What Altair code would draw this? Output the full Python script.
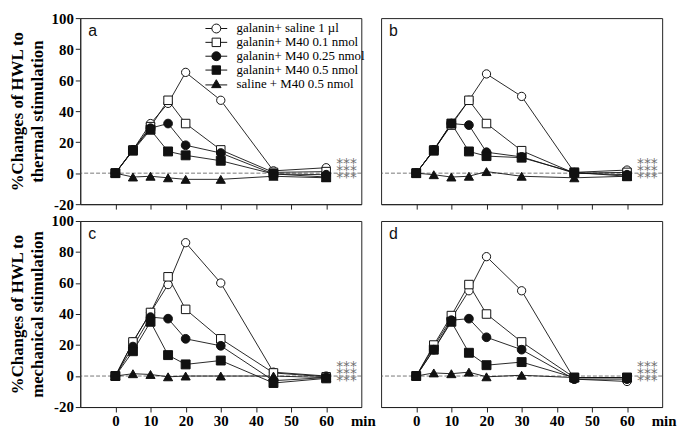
import altair as alt
import pandas as pd

times = [0, 5, 10, 15, 20, 30, 45, 60]
series = ["galanin+ saline 1 \u00b5l", "galanin+ M40 0.1 nmol", "galanin+ M40 0.25 nmol",
          "galanin+ M40 0.5 nmol", "saline + M40 0.5 nmol"]

# panel a (thermal)
a_open_circle = [0, 15, 32, 45, 65, 47, 1.5, 3.5]
a_open_square = [0, 15, 30, 47, 32, 15, 0.5, 1]
a_filled_circle = [0, 15, 29, 32, 18, 13, -0.5, -1]
a_filled_square = [0, 14.5, 28, 14, 11.5, 8, -0.5, -2.5]
a_triangle = [0, -2.5, -2, -3, -4, -4, -2, -3]
# panel b (thermal)
b_open_circle = [0, 15, 32, 47, 64, 49.5, 0.5, 2]
b_open_square = [0, 15, 31, 47, 32, 14.5, 0, 0.5]
b_filled_circle = [0, 15, 32, 31, 13.5, 10.5, 0, -1]
b_filled_square = [0, 14.5, 32, 14, 11, 10, 0.5, -2]
b_triangle = [0, -1, -2.5, -2, 1, -2, -3, -2]
# panel c (mechanical)
c_open_circle = [0, 22, 41, 59, 86, 60, 2.5, 0]
c_open_square = [0, 22, 41, 64, 43, 24, 2, -0.5]
c_filled_circle = [0, 19, 38, 37, 24, 19.5, -3, -1]
c_filled_square = [0, 16, 35, 13.5, 7.5, 10, -4.5, -1.5]
c_triangle = [0, 1.5, 1, -0.5, 0, 0, 0, -1]
# panel d (mechanical)
d_open_circle = [0, 19, 37, 55, 77, 55, -2, -3.5]
d_open_square = [0, 20, 39, 59, 40, 22, -1, -1]
d_filled_circle = [0, 17, 36, 37, 25, 17, -2, -2]
d_filled_square = [0, 17, 35, 15, 7, 9, -1, -1]
d_triangle = [0, 2, 1.5, 2.5, -0.5, 0.5, -1, -1]

star_x = [65.8]
star_y = [2.5]
star_text = ["***|***|***"]

x_ticks = [0, 10, 20, 30, 40, 50, 60]
y_ticks = [-20, 0, 20, 40, 60, 80, 100]

point_shapes = ["circle", "square", "circle", "square", "triangle-up"]
point_fills = ["white", "white", "#111", "#111", "#111"]
point_strokes = ["#111"] * 5
point_sizes = [70, 85, 70, 85, 65]
legend_paths = [
    "M-2.2,0H-0.9M0.9,0H2.2M0.9,0A0.9,0.9,0,1,1,-0.9,0A0.9,0.9,0,1,1,0.9,0Z",
    "M-2.2,0H-0.85M0.85,0H2.2M-0.85,-0.85H0.85V0.85H-0.85Z",
    "M-2.2,0H2.2M0.9,0A0.9,0.9,0,1,1,-0.9,0A0.9,0.9,0,1,1,0.9,0Z",
    "M-2.2,0H2.2M-0.85,-0.85H0.85V0.85H-0.85Z",
    "M-2.2,0.2H2.2M0,-0.85L0.95,0.75H-0.95Z",
]

W, H = 284, 188


def make_df(vals):
    rows = []
    for s, v in zip(series, vals):
        for t, y in zip(times, v):
            rows.append({"series": s, "time": t, "value": y})
    return pd.DataFrame(rows)


def panel(vals, letter, left, bottom, legend, ytitle=None):
    df = make_df(vals)
    if bottom:
        xaxis = alt.Axis(values=x_ticks, tickSize=5, labelPadding=2, grid=False,
                         labelFlush=False, labelOverlap=False, title="min",
                         titleX=273, titleY=19, titleAlign="left",
                         titleBaseline="alphabetic", titleFontSize=15)
    else:
        xaxis = alt.Axis(values=x_ticks, tickSize=5, labels=False, grid=False, title=None)
    if left:
        yaxis = alt.Axis(values=y_ticks, tickSize=5, labelPadding=2, grid=False,
                         labelOverlap=False, labelFlush=False,
                         labelExpr="'' + datum.value", title=ytitle, titlePadding=5,
                         titleLineHeight=20)
    else:
        yaxis = alt.Axis(values=y_ticks, labels=False, ticks=False, domain=False,
                         grid=False, title=None)
    xs = alt.Scale(domain=[-10, 70], nice=False, zero=False)
    ys = alt.Scale(domain=[-20, 100], nice=False)

    def X(f):
        return alt.X(f, scale=xs, axis=xaxis)

    def Y(f):
        return alt.Y(f, scale=ys, axis=yaxis)

    base = alt.Chart(df)
    zero = alt.Chart(pd.DataFrame({"z": [0]})).mark_rule(
        color="#555", strokeDash=[4, 2], strokeWidth=0.8).encode(y=Y("z:Q"))
    lines = base.mark_line(color="#111", strokeWidth=0.9).encode(
        x=X("time:Q"), y=Y("value:Q"), detail="series:N")
    pts = base.mark_point(stroke="#111", strokeWidth=1, opacity=1, fillOpacity=1).encode(
        x=X("time:Q"), y=Y("value:Q"),
        shape=alt.Shape("series:N", scale=alt.Scale(domain=series, range=point_shapes), legend=None),
        fill=alt.Fill("series:N", scale=alt.Scale(domain=series, range=point_fills), legend=None),
        size=alt.Size("series:N", scale=alt.Scale(domain=series, range=point_sizes), legend=None),
    )
    stars = alt.Chart(pd.DataFrame({"x": star_x, "y": star_y, "t": star_text})).mark_text(
        font="DejaVu Sans", fontSize=14, fill="#707070", align="center",
        baseline="middle", lineBreak="|", lineHeight=7, dy=-5).encode(
        x=X("x:Q"), y=Y("y:Q"), text="t:N")
    lab = alt.Chart(pd.DataFrame({"t": [letter]})).mark_text(
        font="Liberation Sans", fontSize=16, color="#111", align="left",
        baseline="middle").encode(x=alt.value(8), y=alt.value(13), text="t:N")
    layers = [zero, lines, pts, stars, lab]
    if legend:
        leg = alt.Legend(orient="none", legendX=131, legendY=4, title=None,
                         labelFont="Liberation Serif", labelFontSize=13,
                         labelColor="black", symbolSize=100, symbolStrokeWidth=1,
                         symbolStrokeColor="#111", labelOffset=14, rowPadding=-1,
                         padding=0, symbolOffset=0)
        dummy = base.transform_filter("datum.value > 1000").mark_point(
            strokeWidth=1, opacity=1, fillOpacity=1, strokeOpacity=1).encode(
            x=X("time:Q"), y=Y("value:Q"),
            shape=alt.Shape("series:N", scale=alt.Scale(domain=series, range=legend_paths), legend=leg),
            fill=alt.Fill("series:N", scale=alt.Scale(domain=series, range=point_fills), legend=leg),
            stroke=alt.Stroke("series:N", scale=alt.Scale(domain=series, range=point_strokes), legend=leg),
        )
        layers.append(dummy)
    return alt.layer(*layers).resolve_scale(
        shape="independent", fill="independent", size="independent", stroke="independent"
    ).properties(width=W, height=H)


pa = panel([a_open_circle, a_open_square, a_filled_circle, a_filled_square, a_triangle],
           "a", True, False, True, ["%Changes of HWL to", "thermal stimulation"])
pb = panel([b_open_circle, b_open_square, b_filled_circle, b_filled_square, b_triangle],
           "b", False, False, False)
pc = panel([c_open_circle, c_open_square, c_filled_circle, c_filled_square, c_triangle],
           "c", True, True, False, ["%Changes of HWL to", "mechanical stimulation"])
pd_ = panel([d_open_circle, d_open_square, d_filled_circle, d_filled_square, d_triangle],
            "d", False, True, False)

chart = alt.concat(pa, pb, pc, pd_, columns=2, spacing={"row": 17, "column": 20},
                   bounds="flush").resolve_scale(
    shape="independent", fill="independent", size="independent", stroke="independent"
).properties(padding=0).configure_view(stroke="#222", strokeWidth=1).configure_axis(
    labelFont="Liberation Serif", labelFontWeight="bold", labelFontSize=15,
    labelColor="black", titleFont="Liberation Serif", titleFontWeight="bold",
    titleFontSize=17, titleColor="black", domainColor="#222", tickColor="#222",
    domainWidth=1, tickWidth=1
)

chart.save("out.html", embed_options={"renderer": "svg", "actions": False})
